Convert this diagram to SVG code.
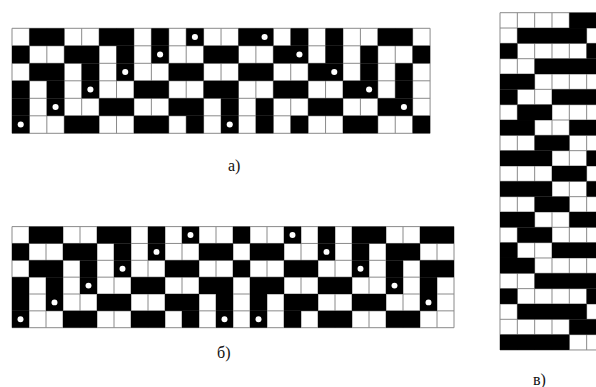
<svg xmlns="http://www.w3.org/2000/svg" width="596" height="387" viewBox="0 0 596 387">
<style>
.bg{fill:#fff}
.gl{fill:none;stroke:#8a8a8a;stroke-width:1;vector-effect:non-scaling-stroke}
.bk rect{fill:#000}
.dt circle{fill:#fff}
.lbl{font-family:"Liberation Serif","Times New Roman",serif;font-size:16px;fill:#111}
</style>
<rect width="596" height="387" fill="#fff"/>
<g id="grid-a" transform="translate(12,28.3) scale(17.42,17.5)">
<rect class="bg" x="0" y="0" width="24" height="6"/>
<path class="gl" d="M0 0V6M1 0V6M2 0V6M3 0V6M4 0V6M5 0V6M6 0V6M7 0V6M8 0V6M9 0V6M10 0V6M11 0V6M12 0V6M13 0V6M14 0V6M15 0V6M16 0V6M17 0V6M18 0V6M19 0V6M20 0V6M21 0V6M22 0V6M23 0V6M24 0V6M0 0H24M0 1H24M0 2H24M0 3H24M0 4H24M0 5H24M0 6H24"/>
<g class="bk">
<rect x="1" y="0" width="2" height="1"/><rect x="5" y="0" width="2" height="1"/><rect x="8" y="0" width="1" height="1"/><rect x="10" y="0" width="1" height="1"/><rect x="13" y="0" width="2" height="1"/><rect x="16" y="0" width="1" height="1"/><rect x="18" y="0" width="1" height="1"/><rect x="21" y="0" width="2" height="1"/>
<rect x="0" y="1" width="1" height="1"/><rect x="3" y="1" width="2" height="1"/><rect x="6" y="1" width="1" height="1"/><rect x="8" y="1" width="1" height="1"/><rect x="11" y="1" width="2" height="1"/><rect x="15" y="1" width="2" height="1"/><rect x="18" y="1" width="1" height="1"/><rect x="20" y="1" width="1" height="1"/><rect x="23" y="1" width="1" height="1"/>
<rect x="1" y="2" width="2" height="1"/><rect x="4" y="2" width="1" height="1"/><rect x="6" y="2" width="1" height="1"/><rect x="9" y="2" width="2" height="1"/><rect x="13" y="2" width="2" height="1"/><rect x="17" y="2" width="2" height="1"/><rect x="20" y="2" width="1" height="1"/><rect x="22" y="2" width="1" height="1"/>
<rect x="0" y="3" width="1" height="1"/><rect x="2" y="3" width="1" height="1"/><rect x="4" y="3" width="1" height="1"/><rect x="7" y="3" width="2" height="1"/><rect x="11" y="3" width="2" height="1"/><rect x="15" y="3" width="2" height="1"/><rect x="19" y="3" width="2" height="1"/><rect x="22" y="3" width="1" height="1"/>
<rect x="0" y="4" width="1" height="1"/><rect x="2" y="4" width="1" height="1"/><rect x="5" y="4" width="2" height="1"/><rect x="9" y="4" width="2" height="1"/><rect x="12" y="4" width="1" height="1"/><rect x="14" y="4" width="1" height="1"/><rect x="17" y="4" width="2" height="1"/><rect x="21" y="4" width="2" height="1"/>
<rect x="0" y="5" width="1" height="1"/><rect x="3" y="5" width="2" height="1"/><rect x="7" y="5" width="2" height="1"/><rect x="10" y="5" width="1" height="1"/><rect x="12" y="5" width="1" height="1"/><rect x="14" y="5" width="1" height="1"/><rect x="16" y="5" width="1" height="1"/><rect x="19" y="5" width="2" height="1"/><rect x="23" y="5" width="1" height="1"/>
</g>
<g class="dt">
<circle cx="10.5" cy="0.5" r="0.175"/><circle cx="14.5" cy="0.5" r="0.175"/>
<circle cx="8.5" cy="1.5" r="0.175"/><circle cx="16.5" cy="1.5" r="0.175"/>
<circle cx="6.5" cy="2.5" r="0.175"/><circle cx="18.5" cy="2.5" r="0.175"/>
<circle cx="4.5" cy="3.5" r="0.175"/><circle cx="20.5" cy="3.5" r="0.175"/>
<circle cx="2.5" cy="4.5" r="0.175"/><circle cx="22.5" cy="4.5" r="0.175"/>
<circle cx="0.5" cy="5.5" r="0.175"/><circle cx="12.5" cy="5.5" r="0.175"/>
</g>
</g>
<g id="grid-b" transform="translate(12,226.6) scale(17,16.85)">
<rect class="bg" x="0" y="0" width="26" height="6"/>
<path class="gl" d="M0 0V6M1 0V6M2 0V6M3 0V6M4 0V6M5 0V6M6 0V6M7 0V6M8 0V6M9 0V6M10 0V6M11 0V6M12 0V6M13 0V6M14 0V6M15 0V6M16 0V6M17 0V6M18 0V6M19 0V6M20 0V6M21 0V6M22 0V6M23 0V6M24 0V6M25 0V6M26 0V6M0 0H26M0 1H26M0 2H26M0 3H26M0 4H26M0 5H26M0 6H26"/>
<g class="bk">
<rect x="1" y="0" width="2" height="1"/><rect x="5" y="0" width="2" height="1"/><rect x="8" y="0" width="1" height="1"/><rect x="10" y="0" width="1" height="1"/><rect x="13" y="0" width="1" height="1"/><rect x="16" y="0" width="1" height="1"/><rect x="18" y="0" width="1" height="1"/><rect x="20" y="0" width="2" height="1"/><rect x="24" y="0" width="2" height="1"/>
<rect x="0" y="1" width="1" height="1"/><rect x="3" y="1" width="2" height="1"/><rect x="6" y="1" width="1" height="1"/><rect x="8" y="1" width="1" height="1"/><rect x="11" y="1" width="2" height="1"/><rect x="14" y="1" width="2" height="1"/><rect x="18" y="1" width="1" height="1"/><rect x="20" y="1" width="1" height="1"/><rect x="22" y="1" width="2" height="1"/>
<rect x="1" y="2" width="2" height="1"/><rect x="4" y="2" width="1" height="1"/><rect x="6" y="2" width="1" height="1"/><rect x="9" y="2" width="2" height="1"/><rect x="13" y="2" width="1" height="1"/><rect x="16" y="2" width="2" height="1"/><rect x="20" y="2" width="1" height="1"/><rect x="22" y="2" width="1" height="1"/><rect x="24" y="2" width="2" height="1"/>
<rect x="0" y="3" width="1" height="1"/><rect x="2" y="3" width="1" height="1"/><rect x="4" y="3" width="1" height="1"/><rect x="7" y="3" width="2" height="1"/><rect x="11" y="3" width="2" height="1"/><rect x="14" y="3" width="2" height="1"/><rect x="18" y="3" width="2" height="1"/><rect x="22" y="3" width="1" height="1"/><rect x="24" y="3" width="1" height="1"/>
<rect x="0" y="4" width="1" height="1"/><rect x="2" y="4" width="1" height="1"/><rect x="5" y="4" width="2" height="1"/><rect x="9" y="4" width="2" height="1"/><rect x="12" y="4" width="1" height="1"/><rect x="14" y="4" width="1" height="1"/><rect x="16" y="4" width="2" height="1"/><rect x="20" y="4" width="2" height="1"/><rect x="24" y="4" width="1" height="1"/>
<rect x="0" y="5" width="1" height="1"/><rect x="3" y="5" width="2" height="1"/><rect x="7" y="5" width="2" height="1"/><rect x="10" y="5" width="1" height="1"/><rect x="12" y="5" width="1" height="1"/><rect x="14" y="5" width="1" height="1"/><rect x="16" y="5" width="1" height="1"/><rect x="18" y="5" width="2" height="1"/><rect x="22" y="5" width="2" height="1"/>
</g>
<g class="dt">
<circle cx="10.5" cy="0.5" r="0.175"/><circle cx="16.5" cy="0.5" r="0.175"/>
<circle cx="8.5" cy="1.5" r="0.175"/><circle cx="18.5" cy="1.5" r="0.175"/>
<circle cx="6.5" cy="2.5" r="0.175"/><circle cx="20.5" cy="2.5" r="0.175"/>
<circle cx="4.5" cy="3.5" r="0.175"/><circle cx="22.5" cy="3.5" r="0.175"/>
<circle cx="2.5" cy="4.5" r="0.175"/><circle cx="24.5" cy="4.5" r="0.175"/>
<circle cx="0.5" cy="5.5" r="0.175"/><circle cx="12.5" cy="5.5" r="0.175"/><circle cx="14.5" cy="5.5" r="0.175"/>
</g>
</g>
<g id="grid-c" transform="translate(500,12.7) scale(17.33,15.33)">
<rect class="bg" x="0" y="0" width="6" height="22"/>
<path class="gl" d="M0 0V22M1 0V22M2 0V22M3 0V22M4 0V22M5 0V22M6 0V22M0 0H6M0 1H6M0 2H6M0 3H6M0 4H6M0 5H6M0 6H6M0 7H6M0 8H6M0 9H6M0 10H6M0 11H6M0 12H6M0 13H6M0 14H6M0 15H6M0 16H6M0 17H6M0 18H6M0 19H6M0 20H6M0 21H6M0 22H6"/>
<g class="bk">
<rect x="4" y="0" width="2" height="1"/>
<rect x="1" y="1" width="4" height="1"/>
<rect x="0" y="2" width="1" height="1"/><rect x="5" y="2" width="1" height="1"/>
<rect x="2" y="3" width="4" height="1"/>
<rect x="0" y="4" width="2" height="1"/>
<rect x="0" y="5" width="1" height="1"/><rect x="3" y="5" width="3" height="1"/>
<rect x="1" y="6" width="2" height="1"/>
<rect x="0" y="7" width="2" height="1"/><rect x="4" y="7" width="2" height="1"/>
<rect x="2" y="8" width="2" height="1"/>
<rect x="0" y="9" width="3" height="1"/><rect x="5" y="9" width="1" height="1"/>
<rect x="3" y="10" width="2" height="1"/>
<rect x="0" y="11" width="3" height="1"/><rect x="5" y="11" width="1" height="1"/>
<rect x="2" y="12" width="2" height="1"/>
<rect x="0" y="13" width="2" height="1"/><rect x="4" y="13" width="2" height="1"/>
<rect x="1" y="14" width="2" height="1"/>
<rect x="0" y="15" width="1" height="1"/><rect x="3" y="15" width="3" height="1"/>
<rect x="0" y="16" width="2" height="1"/>
<rect x="2" y="17" width="4" height="1"/>
<rect x="0" y="18" width="1" height="1"/><rect x="5" y="18" width="1" height="1"/>
<rect x="1" y="19" width="4" height="1"/>
<rect x="4" y="20" width="2" height="1"/>
<rect x="0" y="21" width="4" height="1"/>
</g>
</g>
<g id="labels">
<text class="lbl" x="228" y="171">а)</text>
<text class="lbl" x="217" y="358">б)</text>
<text class="lbl" x="533" y="385">в)</text>
</g>
</svg>
